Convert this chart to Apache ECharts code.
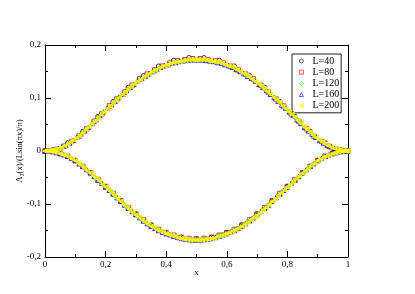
<!DOCTYPE html>
<html><head><meta charset="utf-8">
<script src="https://cdn.jsdelivr.net/npm/echarts@6/dist/echarts.min.js"></script>
<style>html,body{margin:0;padding:0;background:#fff}#c{width:415px;height:294px}</style>
</head><body><div id="c"></div>
<script>
// System sizes
const sizes = [40, 80, 120, 160, 200];
const seriesNames = ['L=40', 'L=80', 'L=120', 'L=160', 'L=200'];
const xTickLabels = ['0', '0,2', '0,4', '0,6', '0,8', '1'];
const yTickLabels = ['-0,2', '-0,1', '0', '0,1', '0,2'];

// values at odd sites x=(2k+1)/L (upper branch) and even sites x=2k/L (lower branch)
const up40 = [0.002,0.015,0.037,0.065,0.093,0.120,0.142,0.160,0.171,0.176,
              0.176,0.171,0.160,0.142,0.120,0.093,0.065,0.037,0.015,0.002];
const lo40 = [0,-0.004,-0.018,-0.041,-0.067,-0.094,-0.119,-0.140,-0.154,-0.163,-0.166,
              -0.163,-0.154,-0.140,-0.119,-0.094,-0.067,-0.041,-0.018,-0.004,0];

const up80 = [0.000,0.003,0.009,0.018,0.028,0.042,0.056,0.070,0.085,0.098,0.111,0.124,0.136,0.145,0.153,0.160,0.166,0.170,0.172,0.174,
              0.174,0.172,0.170,0.166,0.160,0.153,0.145,0.136,0.124,0.111,0.098,0.085,0.070,0.056,0.042,0.028,0.018,0.009,0.003,0.000];
const lo80 = [0,-0.001,-0.004,-0.010,-0.018,-0.029,-0.041,-0.054,-0.067,-0.080,-0.094,-0.107,-0.119,-0.130,-0.140,-0.148,-0.154,-0.159,-0.163,-0.165,-0.166,
              -0.165,-0.163,-0.159,-0.154,-0.148,-0.140,-0.130,-0.119,-0.107,-0.094,-0.080,-0.067,-0.054,-0.041,-0.029,-0.018,-0.010,-0.004,-0.001,0];

const up120 = [0.000,0.002,0.004,0.008,0.013,0.019,0.027,0.035,0.044,0.054,0.063,0.072,0.082,0.091,0.100,0.108,0.117,0.125,0.133,0.139,0.145,0.151,0.156,0.160,0.164,0.167,0.169,0.171,0.172,0.172,
               0.172,0.172,0.171,0.169,0.167,0.164,0.160,0.156,0.151,0.145,0.139,0.133,0.125,0.117,0.108,0.100,0.091,0.082,0.072,0.063,0.054,0.044,0.035,0.027,0.019,0.013,0.008,0.004,0.002,0.000];
const lo120 = [0,-0.001,-0.002,-0.005,-0.008,-0.012,-0.018,-0.025,-0.033,-0.041,-0.050,-0.059,-0.068,-0.076,-0.085,-0.095,-0.103,-0.111,-0.120,-0.127,-0.134,-0.141,-0.146,-0.151,-0.155,-0.158,-0.161,-0.164,-0.166,-0.167,-0.167,
               -0.167,-0.166,-0.164,-0.161,-0.158,-0.155,-0.151,-0.146,-0.141,-0.134,-0.127,-0.120,-0.111,-0.103,-0.095,-0.085,-0.076,-0.068,-0.059,-0.050,-0.041,-0.033,-0.025,-0.018,-0.012,-0.008,-0.005,-0.002,-0.001,0];

const up160 = [0.000,0.001,0.002,0.005,0.008,0.011,0.015,0.020,0.026,0.032,0.038,0.045,0.052,0.059,0.067,0.074,0.081,0.087,0.094,0.101,0.107,0.114,0.120,0.126,0.132,0.137,0.141,0.146,0.150,0.154,0.158,0.161,0.163,0.166,0.167,0.169,0.170,0.171,0.172,0.172,
               0.172,0.172,0.171,0.170,0.169,0.167,0.166,0.163,0.161,0.158,0.154,0.150,0.146,0.141,0.137,0.132,0.126,0.120,0.114,0.107,0.101,0.094,0.087,0.081,0.074,0.067,0.059,0.052,0.045,0.038,0.032,0.026,0.020,0.015,0.011,0.008,0.005,0.002,0.001,0.000];
const lo160 = [0,0,-0.001,-0.003,-0.005,-0.007,-0.010,-0.014,-0.018,-0.024,-0.029,-0.035,-0.041,-0.048,-0.055,-0.061,-0.068,-0.074,-0.081,-0.088,-0.095,-0.102,-0.108,-0.114,-0.120,-0.126,-0.132,-0.137,-0.142,-0.146,-0.150,-0.153,-0.156,-0.158,-0.161,-0.163,-0.165,-0.166,-0.167,-0.168,-0.168,
               -0.168,-0.167,-0.166,-0.165,-0.163,-0.161,-0.158,-0.156,-0.153,-0.150,-0.146,-0.142,-0.137,-0.132,-0.126,-0.120,-0.114,-0.108,-0.102,-0.095,-0.088,-0.081,-0.074,-0.068,-0.061,-0.055,-0.048,-0.041,-0.035,-0.029,-0.024,-0.018,-0.014,-0.010,-0.007,-0.005,-0.003,-0.001,0,0];

const up200 = [0.000,0.001,0.002,0.003,0.005,0.007,0.010,0.013,0.017,0.021,0.025,0.030,0.035,0.041,0.046,0.052,0.057,0.063,0.069,0.074,0.080,0.085,0.091,0.096,0.101,0.107,0.112,0.117,0.122,0.127,0.131,0.135,0.139,0.143,0.146,0.150,0.153,0.156,0.159,0.161,0.163,0.165,0.167,0.168,0.169,0.170,0.171,0.172,0.172,0.172,
               0.172,0.172,0.172,0.171,0.170,0.169,0.168,0.167,0.165,0.163,0.161,0.159,0.156,0.153,0.150,0.146,0.143,0.139,0.135,0.131,0.127,0.122,0.117,0.112,0.107,0.101,0.096,0.091,0.085,0.080,0.074,0.069,0.063,0.057,0.052,0.046,0.041,0.035,0.030,0.025,0.021,0.017,0.013,0.010,0.007,0.005,0.003,0.002,0.001,0.000];
const lo200 = [0,0,-0.001,-0.002,-0.003,-0.005,-0.007,-0.009,-0.012,-0.015,-0.018,-0.023,-0.027,-0.032,-0.037,-0.042,-0.047,-0.052,-0.057,-0.063,-0.068,-0.073,-0.079,-0.084,-0.090,-0.095,-0.101,-0.106,-0.111,-0.116,-0.121,-0.125,-0.130,-0.134,-0.138,-0.142,-0.145,-0.149,-0.151,-0.154,-0.156,-0.158,-0.160,-0.162,-0.164,-0.165,-0.166,-0.167,-0.168,-0.168,-0.168,
               -0.168,-0.168,-0.167,-0.166,-0.165,-0.164,-0.162,-0.160,-0.158,-0.156,-0.154,-0.151,-0.149,-0.145,-0.142,-0.138,-0.134,-0.130,-0.125,-0.121,-0.116,-0.111,-0.106,-0.101,-0.095,-0.090,-0.084,-0.079,-0.073,-0.068,-0.063,-0.057,-0.052,-0.047,-0.042,-0.037,-0.032,-0.027,-0.023,-0.018,-0.015,-0.012,-0.009,-0.007,-0.005,-0.003,-0.002,-0.001,0,0];

const upper = [up40, up80, up120, up160, up200];
const lower = [lo40, lo80, lo120, lo160, lo200];

const colors = ['#000000', '#ff0000', '#00ff00', '#0000ff', '#ffff00'];
const fills = ['rgba(255,255,255,0)', 'rgba(255,255,255,0)', 'rgba(255,255,255,0)', 'rgba(255,255,255,0)', '#ffff00'];
const symbols = ['circle', 'rect', 'diamond', 'triangle', 'path://M0,5L10,0L10,10Z'];

const FONT = '"Liberation Serif", "Times New Roman", serif';

const series = sizes.map((L, s) => {
  const data = upper[s].map((v, k) => [(2 * k + 1) / L, v])
    .concat(lower[s].map((v, k) => [(2 * k) / L, v]));
  return {
    name: seriesNames[s],
    type: 'scatter',
    data: data,
    symbol: symbols[s],
    symbolSize: 4.5,
    itemStyle: { color: fills[s], borderColor: colors[s], borderWidth: 1 },
    emphasis: { disabled: true },
    animation: false,
    z: 2 + s
  };
});

function fmtX(v) {
  const i = Math.round(v / 0.2);
  return xTickLabels[i] !== undefined ? xTickLabels[i] : '';
}
function fmtY(v) {
  const i = Math.round((v + 0.2) / 0.1);
  return yTickLabels[i] !== undefined ? yTickLabels[i] : '';
}

const axisCommon = {
  axisLine: { show: true, onZero: false, lineStyle: { color: '#000', width: 1 } },
  axisTick: { show: true, inside: true, length: 6, lineStyle: { color: '#000', width: 1 } },
  minorTick: { show: true, splitNumber: 2, length: 3, lineStyle: { color: '#000', width: 1 } },
  splitLine: { show: false },
  minorSplitLine: { show: false }
};

const chart = echarts.init(document.getElementById('c'), null, { renderer: 'canvas' });
chart.setOption({
  backgroundColor: '#fff',
  animation: false,
  grid: { left: 45, right: 67, top: 45, bottom: 37 },
  legend: {
    orient: 'vertical',
    left: 292, top: 54,
    padding: [2, 2, 2, 7],
    borderColor: '#222', borderWidth: 1,
    itemWidth: 4, itemHeight: 4, itemGap: 1.2,
    itemStyle: { borderWidth: 0.8 },
    textStyle: { fontFamily: FONT, fontSize: 10, color: '#000', lineHeight: 8, padding: [0, 0, 0, 4] },
    data: seriesNames
  },
  xAxis: [
    Object.assign({}, axisCommon, {
      type: 'value', min: 0, max: 1, interval: 0.2, position: 'bottom',
      name: 'x', nameLocation: 'middle', nameGap: 11, nameMoveOverlap: false,
      nameTextStyle: { fontFamily: FONT, fontSize: 9, color: '#000' },
      axisLabel: { show: true, margin: 3, fontFamily: FONT, fontSize: 9, color: '#000', formatter: fmtX }
    }),
    Object.assign({}, axisCommon, {
      type: 'value', min: 0, max: 1, interval: 0.2, position: 'top',
      axisLabel: { show: false }
    })
  ],
  yAxis: [
    Object.assign({}, axisCommon, {
      type: 'value', min: -0.2, max: 0.2, interval: 0.1, position: 'left',
      name: 'Λ₂(x)/(Lsin(πx)/π)', nameLocation: 'middle', nameGap: 21, nameRotate: 90, nameMoveOverlap: false,
      nameTextStyle: { fontFamily: FONT, fontSize: 8.5, color: '#000' },
      axisLabel: { show: true, margin: 4, fontFamily: FONT, fontSize: 9, color: '#000', formatter: fmtY }
    }),
    Object.assign({}, axisCommon, {
      type: 'value', min: -0.2, max: 0.2, interval: 0.1, position: 'right',
      axisLabel: { show: false }
    })
  ],
  series: series
});
</script>
</body></html>
